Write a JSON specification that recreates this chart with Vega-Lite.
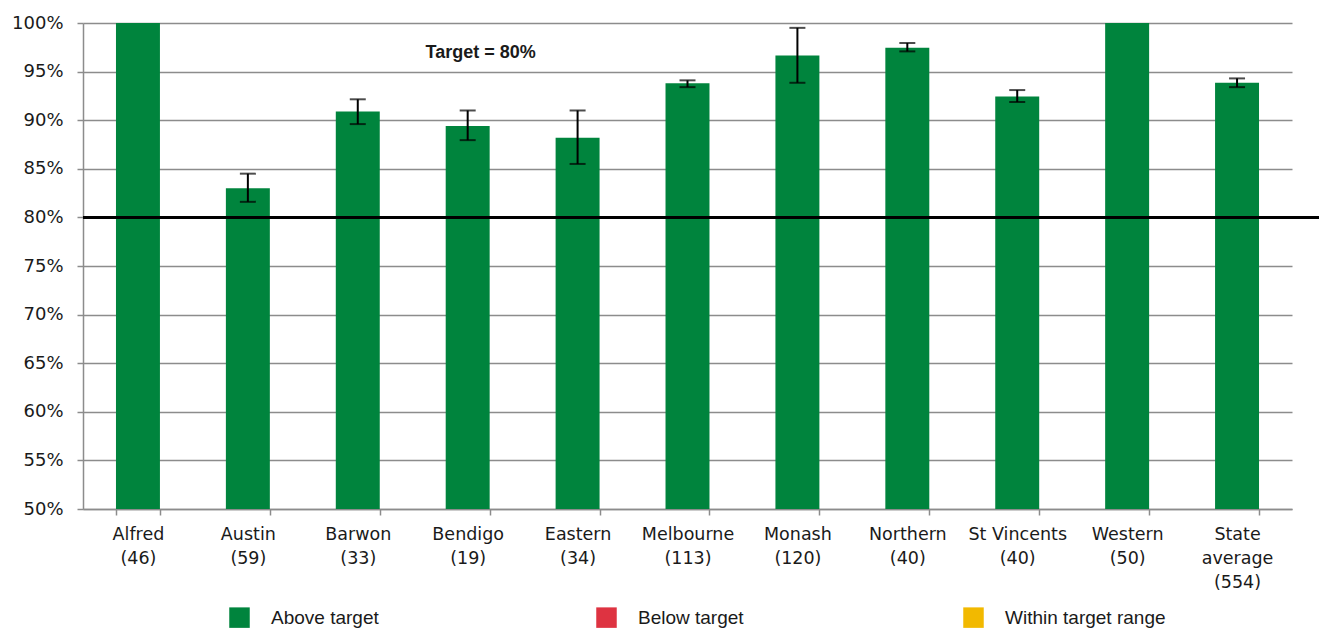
{
  "$schema": "https://vega.github.io/schema/vega-lite/v6.json",
  "width": 1209,
  "height": 486,
  "autosize": {"type": "none"},
  "padding": {"left": 83, "top": 23, "right": 27, "bottom": 120},
  "background": "white",
  "config": {"view": {"stroke": null}, "font": "DejaVu Sans"},
  "data": {
    "values": [
      {"label": "Alfred|(46)", "value": 100, "lo": null, "hi": null, "status": "Above target"},
      {"label": "Austin|(59)", "value": 83.0, "lo": 81.6, "hi": 84.5, "status": "Above target"},
      {"label": "Barwon|(33)", "value": 90.9, "lo": 89.6, "hi": 92.15, "status": "Above target"},
      {"label": "Bendigo|(19)", "value": 89.4, "lo": 87.95, "hi": 91.0, "status": "Above target"},
      {"label": "Eastern|(34)", "value": 88.2, "lo": 85.5, "hi": 91.0, "status": "Above target"},
      {"label": "Melbourne|(113)", "value": 93.8, "lo": 93.4, "hi": 94.1, "status": "Above target"},
      {"label": "Monash|(120)", "value": 96.65, "lo": 93.85, "hi": 99.5, "status": "Above target"},
      {"label": "Northern|(40)", "value": 97.45, "lo": 97.08, "hi": 97.94, "status": "Above target"},
      {"label": "St Vincents|(40)", "value": 92.45, "lo": 91.87, "hi": 93.1, "status": "Above target"},
      {"label": "Western|(50)", "value": 100, "lo": null, "hi": null, "status": "Above target"},
      {"label": "State|average|(554)", "value": 93.85, "lo": 93.4, "hi": 94.3, "status": "Above target"}
    ]
  },
  "layer": [
    {
      "mark": {"type": "bar"},
      "encoding": {
        "x": {
          "field": "label", "type": "nominal", "sort": null,
          "scale": {"paddingInner": 0.6, "paddingOuter": 0.3},
          "axis": {
            "title": null, "labelAngle": 0,
            "labelExpr": "split(datum.label, '|')",
            "labelFontSize": 17.5, "labelLineHeight": 24,
            "labelColor": "#1a1a1a", "labelPadding": 10,
            "tickBand": "extent", "tickSize": 6, "tickColor": "#8c8c8c", "tickWidth": 1.5,
            "domainColor": "#8c8c8c", "domainWidth": 1.5, "grid": false
          }
        },
        "y": {
          "field": "value", "type": "quantitative",
          "scale": {"domain": [50, 100], "zero": false, "nice": false},
          "axis": {
            "title": null, "values": [50, 55, 60, 65, 70, 75, 80, 85, 90, 95, 100],
            "labelExpr": "datum.value + '%'",
            "labelFontSize": 18, "labelColor": "#1a1a1a", "labelPadding": 14,
            "grid": true, "gridColor": "#8c8c8c", "gridWidth": 1.5,
            "domainColor": "#8c8c8c", "domainWidth": 1.5,
            "tickColor": "#8c8c8c", "tickSize": 6, "tickWidth": 1.5
          }
        },
        "y2": {"datum": 50},
        "color": {
          "field": "status", "type": "nominal",
          "scale": {
            "domain": ["Above target", "Below target", "Within target range"],
            "range": ["#00843D", "#DE3341", "#F2B900"]
          },
          "legend": {
            "orient": "none", "legendX": 146, "legendY": 584,
            "direction": "horizontal", "title": null,
            "symbolType": "square", "symbolSize": 420, "symbolStrokeWidth": 0,
            "labelFontSize": 19, "labelFont": "Liberation Sans", "labelColor": "#1a1a1a",
            "labelLimit": 400,
            "labelOffset": 21, "columnPadding": 164, "gridAlign": "all", "padding": 0
          }
        }
      }
    },
    {
      "transform": [{"filter": "datum.lo != null"}],
      "mark": {
        "type": "errorbar",
        "ticks": {"size": 16, "thickness": 2, "color": "black"},
        "rule": {"strokeWidth": 2, "color": "black"}
      },
      "encoding": {
        "x": {"field": "label", "type": "nominal", "sort": null},
        "y": {"field": "lo", "type": "quantitative"},
        "y2": {"field": "hi"}
      }
    },
    {
      "data": {"values": [{"target": 80}]},
      "mark": {"type": "rule", "color": "black", "strokeWidth": 3, "x2Offset": 27, "clip": false},
      "encoding": {
        "x": {"value": 0},
        "x2": {"value": "width"},
        "y": {"field": "target", "type": "quantitative"}
      }
    },
    {
      "data": {"values": [{"t": "Target = 80%", "pos": "Bendigo|(19)", "yv": 96.9}]},
      "mark": {"type": "text", "font": "Liberation Sans", "fontWeight": "bold", "fontSize": 18, "color": "#1a1a1a", "dx": 13},
      "encoding": {
        "x": {"field": "pos", "type": "nominal", "sort": null},
        "y": {"field": "yv", "type": "quantitative"},
        "text": {"field": "t"}
      }
    }
  ]
}
